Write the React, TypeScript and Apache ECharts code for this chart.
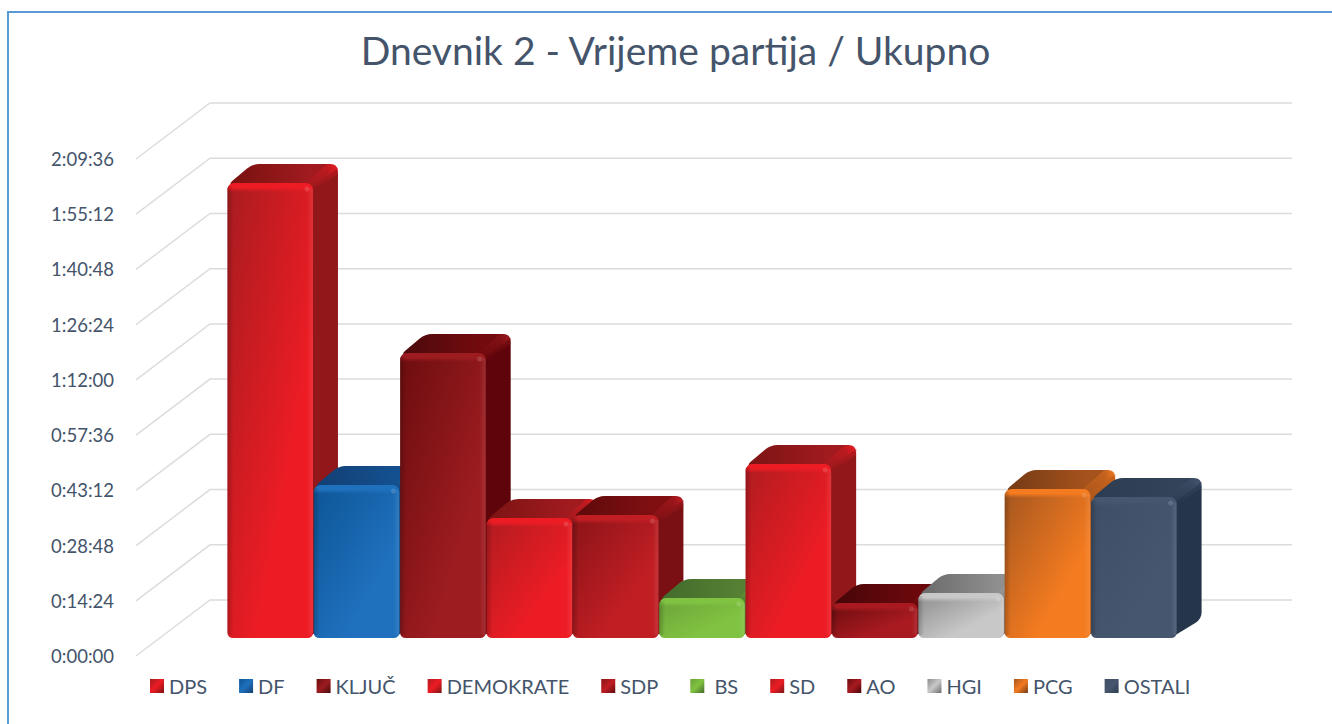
import React, { useEffect, useRef } from "react";
import * as echarts from "echarts";

const TITLE = "Dnevnik 2 - Vrijeme partija / Ukupno";
const parties = ["DPS", "DF", "KLJUČ", "DEMOKRATE", "SDP", " BS", "SD", "AO", "HGI", "PCG", "OSTALI"];
// time on air, in seconds
const seconds = [7119, 2394, 4459, 1878, 1924, 626, 2723, 548, 704, 2331, 2206];
const tickLabels = ["0:00:00", "0:14:24", "0:28:48", "0:43:12", "0:57:36", "1:12:00", "1:26:24", "1:40:48", "1:55:12", "2:09:36"];
const tickValues = [0, 864, 1728, 2592, 3456, 4320, 5184, 6048, 6912, 7776];

const frontDark = ["#a81c20", "#0d5596", "#6c0d0f", "#b01c20", "#8a1417", "#6ba33a", "#b01c20", "#6a0c0e", "#8c8c8c", "#a4561f", "#3e4e65"];
const frontLight = ["#ed1c24", "#1f70bd", "#9c1c20", "#ed1c24", "#c11e24", "#80c241", "#ed1c24", "#a81a20", "#c8c8c8", "#f47b20", "#45566e"];
const topDark = ["#78120f", "#123f73", "#4c0a0c", "#7c1414", "#5f0a0b", "#436b2c", "#7c1414", "#480608", "#6b6b6b", "#743a16", "#2d3d51"];
const topLight = ["#a01a1e", "#14508f", "#730a0e", "#a01a1e", "#800f12", "#568033", "#a01a1e", "#6a080c", "#8f8f8f", "#a5521c", "#32435a"];
const sideColor = ["#91171a", "#103f70", "#5f040a", "#91171a", "#7a1013", "#4a7430", "#91171a", "#560509", "#7c7c7c", "#b0581c", "#25354a"];

const DEPTH_X = 25;
const DEPTH_Y = 19;
const FLOOR_LIFT = 18;
const AXIS_TO_PLOT = 91;
const WALL_X = 74;
const WALL_Y = 56;
const WALL_RIGHT = 1292;

function roundedPoly(pts: number[][], radii: number[]) {
  const n = pts.length;
  let d = "";
  for (let i = 0; i < n; i++) {
    const p = pts[i];
    const a = pts[(i + n - 1) % n];
    const b = pts[(i + 1) % n];
    const r = radii[i];
    const la = Math.hypot(a[0] - p[0], a[1] - p[1]) || 1;
    const lb = Math.hypot(b[0] - p[0], b[1] - p[1]) || 1;
    const s = [p[0] + ((a[0] - p[0]) * r) / la, p[1] + ((a[1] - p[1]) * r) / la];
    const e = [p[0] + ((b[0] - p[0]) * r) / lb, p[1] + ((b[1] - p[1]) * r) / lb];
    d += `${i === 0 ? "M" : "L"}${s[0]} ${s[1]}Q${p[0]} ${p[1]} ${e[0]} ${e[1]}`;
  }
  return d + "Z";
}

const lin = (x2: number, y2: number, stops: [number, string][]) =>
  new echarts.graphic.LinearGradient(0, 0, x2, y2, stops.map(([offset, color]) => ({ offset, color })));

function barRenderer(idx: number) {
  return (_params: any, api: any) => {
    const cat = api.value(0);
    const band = api.size([1, 0])[0];
    const cx = api.coord([cat, 0])[0];
    const b = api.coord([cat, 0])[1] - FLOOR_LIFT;
    const t = api.coord([cat, api.value(1)])[1] - FLOOR_LIFT;
    const l = cx - band / 2 + 0.4;
    const r = cx + band / 2 - 0.4;
    const h = b - t;
    const glow = "rgba(255,255,255,0.1)";
    const light = frontLight[idx];
    const path = (d: string, fill: any, opacity = 1) => ({
      type: "path",
      shape: { pathData: d },
      style: { fill, opacity },
      silent: true,
    });
    const rect = (x: number, y: number, w: number, hh: number, fill: any) => ({
      type: "rect",
      shape: { x, y, width: w, height: hh, r: 2 },
      style: { fill },
      silent: true,
    });
    return {
      type: "group",
      children: [
        path(
          roundedPoly(
            [[r - 6, t + 4], [r + DEPTH_X - 6, t - DEPTH_Y + 2], [r + DEPTH_X, t - DEPTH_Y], [r + DEPTH_X, b - DEPTH_Y], [r - 6, b]],
            [0, 0, 9, 7, 0]
          ),
          sideColor[idx]
        ),
        path(
          roundedPoly(
            [[l, t + 2], [l + DEPTH_X, t - DEPTH_Y], [r + DEPTH_X, t - DEPTH_Y], [r + DEPTH_X, t - DEPTH_Y + 4], [r, t + 4]],
            [7, 7, 8, 0, 0]
          ),
          lin(1, 0, [[0, topDark[idx]], [0.72, topLight[idx]], [0.9, topLight[idx]], [1, light]])
        ),
        path(
          `M${r - 8} ${t + 1}L${r + DEPTH_X - 11} ${t - DEPTH_Y}L${r + DEPTH_X - 3} ${t - DEPTH_Y + 1}L${r + DEPTH_X} ${t - DEPTH_Y + 5}L${r + DEPTH_X} ${t - DEPTH_Y + 10}L${r} ${t + 8}Z`,
          lin(0, 1, [[0, light], [1, sideColor[idx]]]),
          0.45
        ),
        path(
          roundedPoly([[l, t], [r, t], [r, b], [l, b]], [8, 8, 6, 6]),
          lin(1, 1, [[0, frontDark[idx]], [0.68, light], [1, light]])
        ),
        path(
          roundedPoly([[l, t], [r, t], [r, t + 9], [l, t + 9]], [8, 8, 0, 0]),
          lin(0, 1, [[0, light], [0.5, light], [1, light + "00"]])
        ),
        rect(r - 6, t + 5, 6, h - 8, lin(1, 0, [[0, "rgba(255,255,255,0)"], [1, glow]])),
        rect(l, t + 3, 6, h - 6, lin(1, 0, [[0, "rgba(0,0,0,0.2)"], [1, "rgba(0,0,0,0)"]])),
        {
          type: "circle",
          shape: { cx: r - 6, cy: t + 6, r: 2.5 },
          style: { fill: "rgba(255,255,255,0.14)" },
          silent: true,
        },
      ],
    };
  };
}

function wallRenderer(params: any, api: any) {
  const y = api.coord([0, api.value(0)])[1];
  const x0 = params.coordSys.x - AXIS_TO_PLOT;
  return {
    type: "polyline",
    shape: { points: [[x0, y], [x0 + WALL_X, y - WALL_Y], [WALL_RIGHT, y - WALL_Y]] },
    style: { stroke: "#dcdcdc", lineWidth: 1.5, fill: "none" },
    silent: true,
  };
}

export default function App() {
  const ref = useRef<HTMLDivElement>(null);
  useEffect(() => {
    const chart = echarts.init(ref.current!, null, { renderer: "svg" });
    chart.setOption({
      animation: false,
      backgroundColor: "#ffffff",
      title: {
        text: TITLE,
        left: 670.5,
        top: 25,
        textAlign: "center",
        textStyle: { fontFamily: "Lato", fontSize: 39, fontWeight: 400, color: "#44546a" },
      },
      grid: { left: 227, top: 159, width: 950, height: 497 },
      xAxis: { type: "category", data: parties, show: false },
      yAxis: {
        type: "value",
        min: 0,
        max: 7776,
        interval: 864,
        offset: AXIS_TO_PLOT,
        axisLine: { show: false },
        axisTick: { show: false },
        splitLine: { show: false },
        axisLabel: {
          margin: 22,
          fontFamily: "Lato",
          fontSize: 18.5,
          color: "#44546a",
          padding: [3, 0, 0, 0],
          formatter: (_v: number, i: number) => tickLabels[i],
        },
      },
      legend: {
        left: 145,
        top: 671,
        itemWidth: 14,
        itemHeight: 14,
        itemGap: 32,
        icon: "rect",
        selectedMode: false,
        textStyle: { fontFamily: "Lato", fontSize: 20, color: "#44546a" },
        data: parties.map((name, i) => ({
          name,
          itemStyle: { color: lin(1, 1, [[0, frontDark[i]], [0.5, frontLight[i]], [1, topDark[i]]]) },
        })),
      },
      series: [
        {
          type: "custom",
          name: "wall",
          coordinateSystem: "cartesian2d",
          clip: false,
          silent: true,
          z: 1,
          encode: { y: 0 },
          data: tickValues.map((v) => [v]),
          renderItem: wallRenderer,
        },
        ...parties.map((name, i) => ({
          type: "custom",
          name,
          coordinateSystem: "cartesian2d",
          clip: false,
          silent: true,
          z: 2 + i,
          encode: { x: 0, y: 1 },
          itemStyle: { color: frontLight[i] },
          data: [[i, seconds[i]]],
          renderItem: barRenderer(i),
        })),
      ],
      graphic: [
        {
          type: "polyline",
          silent: true,
          shape: { points: [[8, 724], [8, 12], [1332, 12]] },
          style: { stroke: "#5b9bd5", lineWidth: 2, fill: "none" },
        },
      ],
    });
    return () => chart.dispose();
  }, []);
  return <div ref={ref} style={{ position: "fixed", left: 0, top: 0, width: 1332, height: 724 }} />;
}
